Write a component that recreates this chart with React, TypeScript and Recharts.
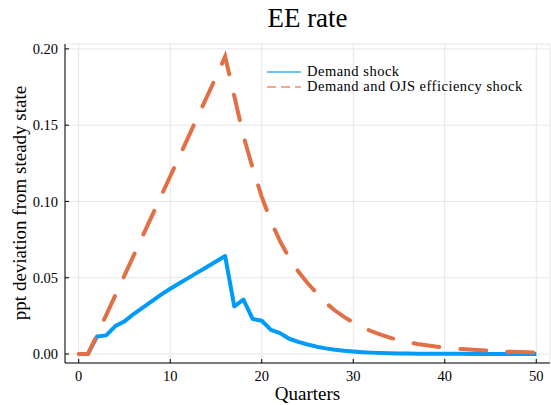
import * as React from "react";
import { CartesianGrid, Label, Line, LineChart, XAxis, YAxis } from "recharts";

const quarters = [
  0, 1, 2, 3, 4, 5, 6, 7, 8, 9, 10, 11, 12, 13, 14, 15, 16, 17, 18, 19, 20,
  21, 22, 23, 24, 25, 26, 27, 28, 29, 30, 31, 32, 33, 34, 35, 36, 37, 38, 39,
  40, 41, 42, 43, 44, 45, 46, 47, 48, 49, 50,
];

const demandShock = [
  0, 0, 0.0115, 0.0122, 0.0183, 0.0214, 0.0262, 0.0304, 0.0347, 0.0389,
  0.0428, 0.0464, 0.0499, 0.0535, 0.057, 0.0606, 0.0642, 0.0312, 0.0356,
  0.023, 0.0218, 0.0158, 0.0137, 0.01, 0.0079, 0.0062, 0.0048, 0.0037, 0.0028,
  0.0021, 0.0016, 0.0012, 0.0009, 0.0007, 0.0005, 0.0004, 0.0003, 0.0002,
  0.0002, 0.0001, 0.0001, 0.0001, 0.0001, 0, 0, 0, 0, 0, 0, 0, 0,
];

const demandOjsShock = [
  0, 0, 0.0125, 0.0255, 0.0385, 0.0515, 0.0645, 0.0775, 0.0905, 0.1035,
  0.1165, 0.1295, 0.1425, 0.1555, 0.1685, 0.1815, 0.195, 0.169, 0.143, 0.122,
  0.103, 0.087, 0.074, 0.063, 0.054, 0.0465, 0.04, 0.0335, 0.0285, 0.0243,
  0.0207, 0.0176, 0.0149, 0.0127, 0.0107, 0.0091, 0.0077, 0.0066, 0.0057,
  0.0049, 0.0043, 0.0037, 0.0032, 0.0028, 0.0024, 0.0021, 0.0018, 0.0015,
  0.0013, 0.0011, 0.001,
];

const xTicks = [0, 10, 20, 30, 40, 50];
const yTicks = [0, 0.05, 0.1, 0.15, 0.2];

const BLUE = "#009af9";
const ORANGE = "#e26f46";
const FONT = "'Liberation Serif', serif";

const data = quarters.map((q, i) => ({
  q,
  demand: demandShock[i],
  ojs: demandOjsShock[i],
}));

// legend drawn over the plot, top right like the Plots.jl default
function ChartLegend() {
  const rows = [
    { label: "Demand shock", color: BLUE, dash: undefined },
    { label: "Demand and OJS efficiency shock", color: ORANGE, dash: "9 5" },
  ];
  return (
    <div
      style={{
        position: "absolute",
        left: 266,
        top: 64,
        fontFamily: FONT,
        fontSize: 14.5,
        letterSpacing: 0.5,
        color: "#000",
      }}
    >
      {rows.map((r) => (
        <div key={r.label} style={{ display: "flex", alignItems: "center", height: 15 }}>
          <svg width={41} height={10}>
            <line
              x1={1}
              x2={35}
              y1={5}
              y2={5}
              stroke={r.color}
              strokeOpacity={0.6}
              strokeWidth={2}
              strokeDasharray={r.dash}
            />
          </svg>
          <span style={{ lineHeight: "15px", whiteSpace: "nowrap" }}>{r.label}</span>
        </div>
      ))}
    </div>
  );
}

export default function App() {
  return (
    <div style={{ position: "absolute", left: 0, top: 0, width: 551, height: 405, background: "#fff" }}>
      <div
        style={{
          position: "absolute",
          left: 65,
          width: 485,
          top: 3,
          textAlign: "center",
          fontFamily: FONT,
          fontSize: 27,
          color: "#000",
        }}
      >
        EE rate
      </div>
      <div
        style={{
          position: "absolute",
          left: 20,
          top: 203,
          transform: "translate(-50%, -50%) rotate(-90deg)",
          whiteSpace: "nowrap",
          fontFamily: FONT,
          fontSize: 19,
          color: "#000",
        }}
      >
        ppt deviation from steady state
      </div>
      <LineChart
        width={551}
        height={405}
        data={data}
        margin={{ top: 44, right: 1, left: 0, bottom: 0 }}
      >
        <CartesianGrid stroke="#e6e6e6" strokeWidth={1} />
        <XAxis
          dataKey="q"
          type="number"
          domain={[-1.5, 51.5]}
          ticks={xTicks}
          height={42}
          tickSize={-4}
          tickMargin={12}
          tick={{ fill: "#000", fontFamily: FONT, fontSize: 14.5 }}
          axisLine={{ stroke: "#000", strokeWidth: 1 }}
          tickLine={{ stroke: "#000" }}
        >
          <Label
            value="Quarters"
            position="insideBottom"
            offset={5}
            style={{ fill: "#000", fontFamily: FONT, fontSize: 19 }}
          />
        </XAxis>
        <YAxis
          type="number"
          domain={[-0.0059, 0.2032]}
          ticks={yTicks}
          width={65}
          tickSize={-4}
          tickMargin={11}
          tickFormatter={(v: number) => v.toFixed(2)}
          tick={{ fill: "#000", fontFamily: FONT, fontSize: 14.5 }}
          axisLine={{ stroke: "#000", strokeWidth: 1 }}
          tickLine={{ stroke: "#000" }}
        />
        <Line
          dataKey="demand"
          name="Demand shock"
          stroke={BLUE}
          strokeWidth={4}
          dot={false}
          isAnimationActive={false}
          strokeLinejoin="round"
        />
        <Line
          dataKey="ojs"
          name="Demand and OJS efficiency shock"
          stroke={ORANGE}
          strokeWidth={4}
          strokeDasharray="26 21"
          strokeLinecap="round"
          dot={false}
          isAnimationActive={false}
        />
      </LineChart>
      <ChartLegend />
    </div>
  );
}
